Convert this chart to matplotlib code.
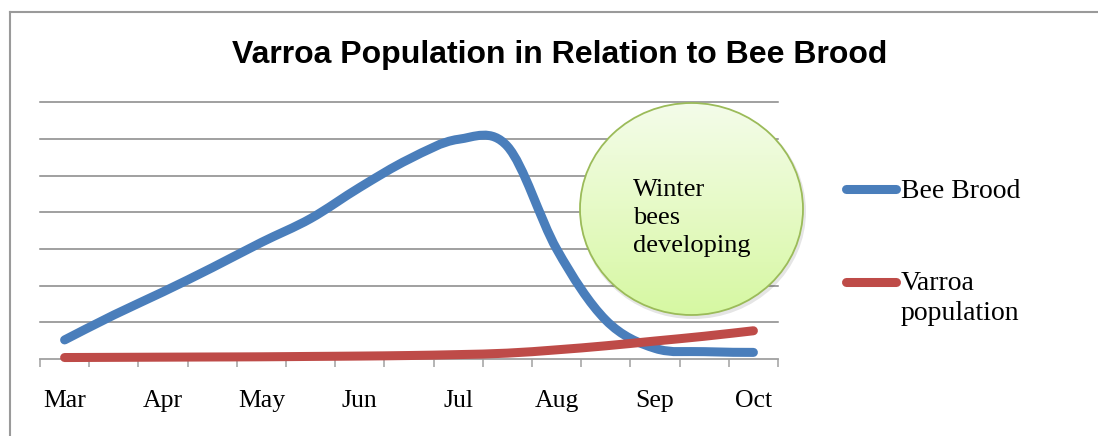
import numpy as np
import matplotlib
matplotlib.use('Agg')
import matplotlib.pyplot as plt
from matplotlib.path import Path
from matplotlib.patches import PathPatch, Ellipse
from matplotlib.lines import Line2D
from matplotlib.colors import LinearSegmentedColormap

# data (gridline units, 0..7)
months = ['Mar', 'Apr', 'May', 'Jun', 'Jul', 'Aug', 'Sep', 'Oct']
bee_brood = [0.52, 1.2, 1.83, 2.49, 3.18, 3.83, 4.68, 5.45, 5.99, 5.8, 3.0, 1.06, 0.29, 0.2, 0.18]
varroa = [0.04, 0.045, 0.05, 0.055, 0.06, 0.07, 0.08, 0.095, 0.12, 0.16, 0.25, 0.36, 0.49, 0.62, 0.77]
series_names = ['Bee Brood', 'Varroa']
title = 'Varroa Population in Relation to Bee Brood'
note = ['Winter', 'bees', 'developing']

W, H = 1098, 436
BLUE = '#4a7ebb'
RED = '#be4b48'
SERIF = 'Liberation Serif'

def fx(px):
    return px / W

def fy(py):
    return 1 - py / H

def smooth_path(ys):
    # excel style smoothed line: cubic bezier through every point
    xs = np.arange(len(ys), dtype=float)
    pts = np.column_stack([xs, np.asarray(ys, dtype=float)])
    n = len(pts)
    verts = [pts[0]]
    codes = [Path.MOVETO]
    for i in range(n - 1):
        p_prev = pts[max(i - 1, 0)]
        p0 = pts[i]
        p1 = pts[i + 1]
        p_next = pts[min(i + 2, n - 1)]
        c1 = p0 + (p1 - p_prev) / 6.0
        c2 = p1 - (p_next - p0) / 6.0
        verts += [c1, c2, p1]
        codes += [Path.CURVE4] * 3
    return Path(verts, codes)

fig = plt.figure(figsize=(W / 100, H / 100), dpi=100)

# chart border (cropped on the right and bottom)
fig.add_artist(Line2D([fx(9.5), fx(9.5)], [fy(12.5), 0], color='#9a9a9a', lw=1.5))
fig.add_artist(Line2D([fx(9.5), 1], [fy(12.5), fy(12.5)], color='#9a9a9a', lw=1.5))

fig.text(fx(560), fy(63), title, ha='center', va='baseline',
         fontsize=23, fontweight='bold', family='Liberation Sans')

ax = fig.add_axes([fx(40), fy(359), fx(778) - fx(40), (359 - 102.3) / H])
ax.set_zorder(0)
ax.patch.set_alpha(0)
ax.set_xlim(-0.5, len(bee_brood) - 0.5)
ax.set_ylim(0, 7)

for y in range(1, 8):
    ax.axhline(y, color='#868686', lw=1.1, zorder=1, clip_on=False)

for s in ['top', 'right', 'left']:
    ax.spines[s].set_visible(False)
ax.spines['bottom'].set_color('#a0a0a0')
ax.spines['bottom'].set_linewidth(1.3)
ax.set_yticks([])

ax.set_xticks(np.arange(-0.5, len(bee_brood), 1.0))
ax.set_xticklabels([])
ax.tick_params(axis='x', which='major', direction='out', length=5.5, width=1.1, color='#a0a0a0')
ax.set_xticks(np.arange(0, len(bee_brood), 2), minor=True)
ax.set_xticklabels(months, minor=True, fontsize=18.5, family=SERIF)
ax.tick_params(axis='x', which='minor', length=0, pad=22.5)

for ys, col in [(bee_brood, BLUE), (varroa, RED)]:
    patch = PathPatch(smooth_path(ys), facecolor='none', edgecolor=col, lw=6.5,
                      capstyle='round', joinstyle='round', zorder=3, clip_on=False)
    ax.add_patch(patch)

# legend
fig.add_artist(Line2D([fx(846), fx(896)], [fy(188.5)] * 2, color=BLUE, lw=6.5, solid_capstyle='round'))
fig.text(fx(901), fy(198), series_names[0], fontsize=20, family=SERIF, va='baseline')
fig.add_artist(Line2D([fx(846), fx(896)], [fy(281.5)] * 2, color=RED, lw=6.5, solid_capstyle='round'))
fig.text(fx(901), fy(290), 'Varroa', fontsize=20, family=SERIF, va='baseline')
fig.text(fx(901), fy(320), 'population', fontsize=20, family=SERIF, va='baseline')

# green bubble
cx0, cx1, cy0, cy1 = 580, 803, 103, 315
shadow = Ellipse(((cx0 + cx1) / 2 / W + 1.5 / W, fy((cy0 + cy1) / 2 + 2.5)),
                 (cx1 - cx0 + 3) / W, (cy1 - cy0 + 3) / H,
                 transform=fig.transFigure, facecolor='#000000', alpha=0.10,
                 edgecolor='none')
shadow.set_zorder(0.5)
fig.add_artist(shadow)
cax = fig.add_axes([fx(cx0), fy(cy1), (cx1 - cx0) / W, (cy1 - cy0) / H])
cax.set_zorder(1)
cax.axis('off')
cmap = LinearSegmentedColormap.from_list('bubble', ['#d6f8a2', '#e6fac6', '#f4fcea'])
grad = np.linspace(0, 1, 256).reshape(-1, 1)
im = cax.imshow(grad, extent=[0, 1, 0, 1], aspect='auto', cmap=cmap, origin='lower')
ell = Ellipse((0.5, 0.5), 1, 1, transform=cax.transAxes)
im.set_clip_path(ell)
cax.add_patch(Ellipse((0.5, 0.5), 1, 1, transform=cax.transAxes, facecolor='none',
                      edgecolor='#9bbb59', lw=1.3, clip_on=False))
for i, line in enumerate(note):
    t = fig.text(fx(633), fy(196 + i * 28), line, fontsize=19, family=SERIF, va='baseline')
    t.set_zorder(5)

fig.savefig('out.png', dpi=100)
